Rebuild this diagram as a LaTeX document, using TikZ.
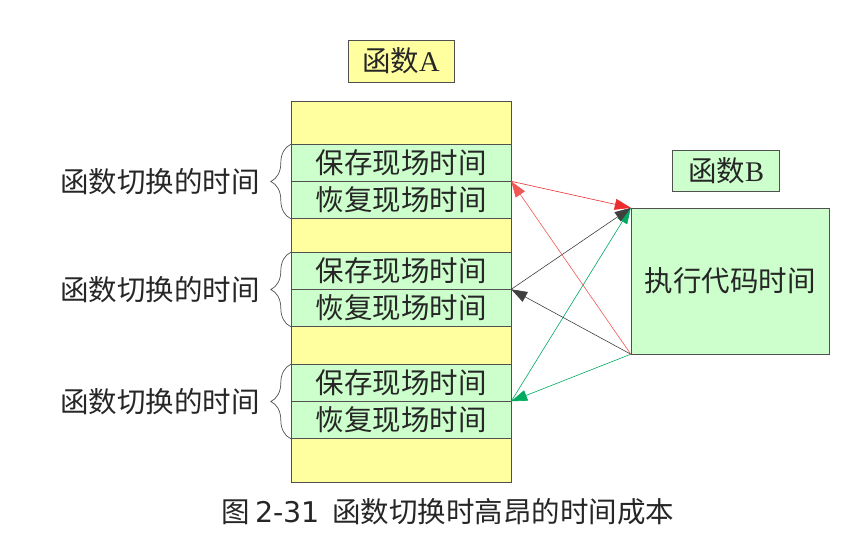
\documentclass[tikz,border=0pt]{standalone}
\usepackage{fontspec}
\setmainfont{Noto Sans CJK SC}
\newfontfamily\latinserif{Liberation Serif}
\newfontfamily\latinsans{DejaVu Sans}
\usetikzlibrary{arrows.meta,decorations.pathreplacing}

\definecolor{boxyellow}{RGB}{255,255,160}
\definecolor{boxgreen}{RGB}{204,255,204}
\definecolor{edgegray}{RGB}{80,80,80}
\definecolor{arrred}{RGB}{235,45,45}
\definecolor{arrgreen}{RGB}{0,170,95}

\begin{document}
\begin{tikzpicture}[x=1pt,y=-1pt,
    every node/.style={font=\fontsize{28.5}{31}\selectfont,text=black!85},
    ybox/.style={draw=edgegray,fill=boxyellow,inner sep=0pt},
    gbox/.style={draw=edgegray,fill=boxgreen,inner sep=0pt},
    phase/.style={gbox,minimum width=220pt,minimum height=37pt},
    brc/.style={draw=edgegray,line width=0.7pt,decorate,decoration={brace,amplitude=20pt}},
    sw/.style={anchor=east,inner sep=0pt},
    link/.style={-{Triangle[length=16pt,width=11pt]},line width=0.6pt}]
    \useasboundingbox (0,0) rectangle (866,553);

    \node[ybox,minimum width=106pt,minimum height=42pt] (funcA) at (401,61) {函数{\latinserif A}};
    \node[ybox,minimum width=220pt,minimum height=381pt] (stackA) at (401,292) {};

    \node[phase] (save1) at (401,163) {保存现场时间};
    \node[phase] (rest1) at (401,200) {恢复现场时间};
    \node[phase] (save2) at (401,271) {保存现场时间};
    \node[phase] (rest2) at (401,308) {恢复现场时间};
    \node[phase] (save3) at (401,383) {保存现场时间};
    \node[phase] (rest3) at (401,420) {恢复现场时间};

    \draw[brc] (rest1.south west) -- (save1.north west);
    \draw[brc] (rest2.south west) -- (save2.north west);
    \draw[brc] (rest3.south west) -- (save3.north west);
    \node[sw] (sw1) at ([xshift=-31pt]rest1.north west) {函数切换的时间};
    \node[sw] (sw2) at ([xshift=-31pt]rest2.north west) {函数切换的时间};
    \node[sw] (sw3) at ([xshift=-31pt]rest3.north west) {函数切换的时间};

    \node[gbox,minimum width=107pt,minimum height=41pt] (funcB) at (726,171) {函数{\latinserif B}};
    \node[gbox,minimum width=198pt,minimum height=146pt] (execB) at (730,281) {执行代码时间};

    % calls and returns
    \draw[link,arrgreen] (rest3.north east) -- (execB.north west);
    \draw[link,arrgreen] (execB.south west) -- (rest3.north east);
    \draw[link,black!75] (rest2.north east) -- (execB.north west);
    \draw[link,black!75] (execB.south west) -- (rest2.north east);
    \draw[link,arrred!80] (execB.south west) -- (rest1.north east);
    \draw[link,arrred] (rest1.north east) -- (execB.north west);

    \node (caption) at (448,512) {图\hspace{5pt}{\latinsans 2-31}\hspace{12pt}函数切换时高昂的时间成本};
\end{tikzpicture}
\end{document}
